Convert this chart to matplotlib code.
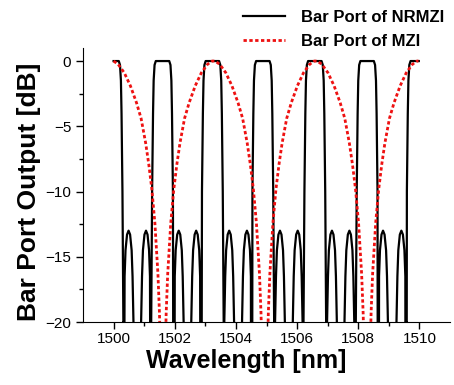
import matplotlib
matplotlib.use('Agg')
import matplotlib.pyplot as plt
import numpy as np

plt.rcParams['font.family'] = ['Liberation Sans', 'DejaVu Sans']

# wavelength span of the simulated spectra
lam_start, lam_stop = 1500.0, 1510.0

# Bar port of NRMZI: flat-top passband centres (nm) and shape (offset nm -> dB)
nrmzi_centres = [1499.95, 1501.60, 1503.23, 1504.88, 1506.58, 1508.29, 1509.93]
pass_dx = [-0.38, -0.37, -0.34, -0.31, -0.29, -0.26, -0.22, -0.05, 0.0,
           0.05, 0.22, 0.26, 0.29, 0.31, 0.34, 0.37, 0.38]
pass_db = [-40, -20, -10, -4, -1.5, -0.3, 0, 0, 0,
           0, 0, -0.3, -1.5, -4, -10, -20, -40]
# side lobes in the stop bands: peak positions (nm), shape around each peak
lobe_peaks = [1500.49, 1501.06, 1502.13, 1502.70, 1503.78, 1504.36,
              1505.44, 1506.02, 1507.14, 1507.71, 1508.81, 1509.41]
lobe_dx = [-0.165, -0.16, -0.13, -0.10, -0.05, 0.0, 0.05, 0.10, 0.13, 0.16, 0.165]
lobe_db = [-40, -20, -16.5, -14.5, -13.3, -13.0, -13.3, -14.5, -16.5, -20, -40]

# Bar port of MZI: peak positions (nm) and arch shape (offset nm -> dB)
mzi_peaks = [1499.95, 1503.27, 1506.61, 1509.97]
arch_dx = [-1.66, -1.6, -1.55, -1.5, -1.4, -1.3, -1.2, -1.1, -0.95, -0.8, -0.6, -0.4, -0.2,
           -0.05, 0.0, 0.05,
           0.2, 0.4, 0.6, 0.8, 0.95, 1.1, 1.2, 1.3, 1.4, 1.5, 1.55, 1.6, 1.66]
arch_db = [-40, -24, -19.3, -16.3, -12.4, -9.8, -7.9, -6.3, -4.4, -3.2, -1.9, -0.9, -0.25,
           0.0, 0.0, 0.0,
           -0.25, -0.9, -1.9, -3.2, -4.4, -6.3, -7.9, -9.8, -12.4, -16.3, -19.3, -24, -40]


def build(centres, dx, db):
    x = np.concatenate([c + np.array(dx) for c in centres])
    y = np.concatenate([np.array(db, dtype=float) for c in centres])
    return x, y


def clip_span(x, y):
    order = np.argsort(x, kind='stable')
    x, y = x[order], y[order]
    keep = (x >= lam_start - 1e-9) & (x <= lam_stop + 1e-9)
    return x[keep], y[keep]


xa, ya = build(nrmzi_centres, pass_dx, pass_db)
xb, yb = build(lobe_peaks, lobe_dx, lobe_db)
nr_x, nr_y = clip_span(np.concatenate([xa, xb]), np.concatenate([ya, yb]))
mz_x, mz_y = clip_span(*build(mzi_peaks, arch_dx, arch_db))

fig = plt.figure(figsize=(4.54, 3.85), dpi=100)
ax = fig.add_axes([83/454, 1 - 322/385, (450 - 83)/454, (322 - 48)/385])

ax.plot(nr_x, nr_y, color='black', lw=1.6, label='Bar Port of NRMZI')
ax.plot(mz_x, mz_y, color='#ee1111', lw=2.0, ls=(0, (1.2, 0.9)), label='Bar Port of MZI')

ax.set_xlim(1499, 1511)
ax.set_ylim(-20, 1)
ax.set_xticks(np.arange(1500, 1511, 2))
ax.set_xticks(np.arange(1501, 1511, 2), minor=True)
ax.set_yticks([-20, -15, -10, -5, 0])
ax.set_yticks([-17.5, -12.5, -7.5, -2.5], minor=True)
ax.tick_params(which='both', direction='out', labelsize=11, width=1)
ax.tick_params(which='major', length=5)
ax.tick_params(which='minor', length=3)
ax.tick_params(axis='x', pad=2)
for s in ['top', 'right']:
    ax.spines[s].set_visible(False)

ax.set_xlabel('Wavelength [nm]', fontsize=18, fontweight='bold', va='center')
ax.xaxis.set_label_coords((246 - 83) / (450 - 83), -(361 - 322) / 274)
ax.set_ylabel('Bar Port Output [dB]', fontsize=19, fontweight='bold', va='center')
ax.yaxis.set_label_coords(-(83 - 29) / 367, (322 - 192) / 274)

ax.legend(loc='upper left', bbox_to_anchor=(243/454, 1 - 10/385), bbox_transform=fig.transFigure,
          frameon=False, borderpad=0, borderaxespad=0, handlelength=2.5, handletextpad=1.0,
          labelspacing=0.55, prop={'weight': 'bold', 'size': 12})

fig.savefig('out.png', dpi=100)
